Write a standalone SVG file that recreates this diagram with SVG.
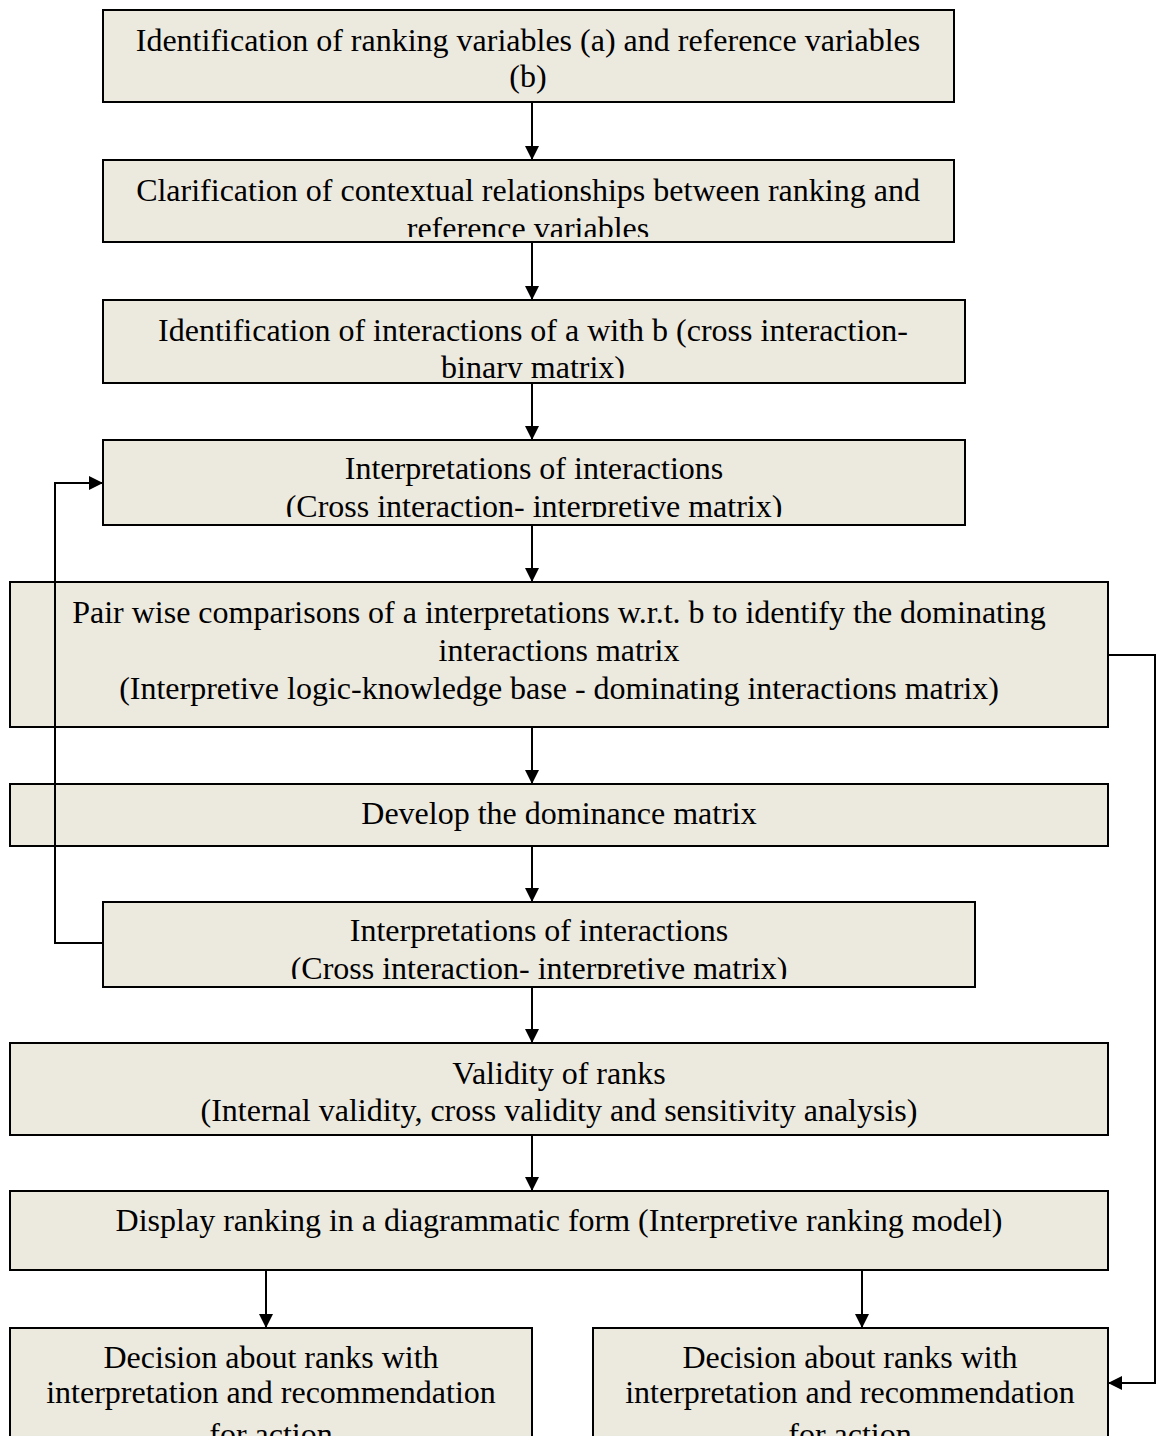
<svg xmlns="http://www.w3.org/2000/svg" width="1162" height="1436" viewBox="0 0 1162 1436">
<style>
.box{fill:#ECE9DF;stroke:#000;stroke-width:2}
.t{font-family:"Liberation Serif","Times New Roman",serif;font-size:32px;fill:#000;text-anchor:middle}
.c{fill:none;stroke:#000;stroke-width:2}
</style>
<defs>
<marker id="ah" viewBox="0 0 10 10" refX="10" refY="5" markerWidth="15" markerHeight="14" markerUnits="userSpaceOnUse" orient="auto"><path d="M0,0 L10,5 L0,10 Z" fill="#000"/></marker>
<clipPath id="c2"><rect x="103" y="160" width="851" height="77"/></clipPath>
<clipPath id="c3"><rect x="103" y="300" width="862" height="78"/></clipPath>
<clipPath id="c4"><rect x="103" y="440" width="862" height="77"/></clipPath>
<clipPath id="c7"><rect x="103" y="902" width="872" height="77"/></clipPath>
<clipPath id="c10"><rect x="10" y="1328" width="522" height="108"/></clipPath>
<clipPath id="c11"><rect x="593" y="1328" width="515" height="108"/></clipPath>
</defs>
<rect width="1162" height="1436" fill="#fff"/>
<g id="n1"><rect class="box" x="103" y="10" width="851" height="92"/>
<text class="t" x="528" y="51">Identification of ranking variables (a) and reference variables</text>
<text class="t" x="528" y="87">(b)</text></g>
<g id="n2"><rect class="box" x="103" y="160" width="851" height="82"/>
<g clip-path="url(#c2)"><text class="t" x="528" y="201">Clarification of contextual relationships between ranking and</text>
<text class="t" x="528" y="239">reference variables</text></g></g>
<g id="n3"><rect class="box" x="103" y="300" width="862" height="83"/>
<g clip-path="url(#c3)"><text class="t" x="533" y="341">Identification of interactions of a with b (cross interaction-</text>
<text class="t" x="533" y="378">binary matrix)</text></g></g>
<g id="n4"><rect class="box" x="103" y="440" width="862" height="85"/>
<g clip-path="url(#c4)"><text class="t" x="534" y="479">Interpretations of interactions</text>
<text class="t" x="534" y="517">(Cross interaction- interpretive matrix)</text></g></g>
<g id="n5"><rect class="box" x="10" y="582" width="1098" height="145"/>
<text class="t" x="559" y="623">Pair wise comparisons of a interpretations w.r.t. b to identify the dominating</text>
<text class="t" x="559" y="661">interactions matrix</text>
<text class="t" x="559" y="699">(Interpretive logic-knowledge base - dominating interactions matrix)</text></g>
<g id="n6"><rect class="box" x="10" y="784" width="1098" height="62"/>
<text class="t" x="559" y="824">Develop the dominance matrix</text></g>
<g id="n7"><rect class="box" x="103" y="902" width="872" height="85"/>
<g clip-path="url(#c7)"><text class="t" x="539" y="941">Interpretations of interactions</text>
<text class="t" x="539" y="979">(Cross interaction- interpretive matrix)</text></g></g>
<g id="n8"><rect class="box" x="10" y="1043" width="1098" height="92"/>
<text class="t" x="559" y="1084">Validity of ranks</text>
<text class="t" x="559" y="1121">(Internal validity, cross validity and sensitivity analysis)</text></g>
<g id="n9"><rect class="box" x="10" y="1191" width="1098" height="79"/>
<text class="t" x="559" y="1231">Display ranking in a diagrammatic form (Interpretive ranking model)</text></g>
<g id="n10"><rect class="box" x="10" y="1328" width="522" height="120"/>
<g clip-path="url(#c10)"><text class="t" x="271" y="1368">Decision about ranks with</text>
<text class="t" x="271" y="1403">interpretation and recommendation</text>
<text class="t" x="271" y="1445">for action</text></g></g>
<g id="n11"><rect class="box" x="593" y="1328" width="515" height="120"/>
<g clip-path="url(#c11)"><text class="t" x="850" y="1368">Decision about ranks with</text>
<text class="t" x="850" y="1403">interpretation and recommendation</text>
<text class="t" x="850" y="1445">for action</text></g></g>
<g id="connectors">
<line class="c" x1="532" y1="102" x2="532" y2="160" marker-end="url(#ah)"/>
<line class="c" x1="532" y1="242" x2="532" y2="300" marker-end="url(#ah)"/>
<line class="c" x1="532" y1="383" x2="532" y2="440" marker-end="url(#ah)"/>
<line class="c" x1="532" y1="525" x2="532" y2="582" marker-end="url(#ah)"/>
<line class="c" x1="532" y1="727" x2="532" y2="784" marker-end="url(#ah)"/>
<line class="c" x1="532" y1="846" x2="532" y2="902" marker-end="url(#ah)"/>
<line class="c" x1="532" y1="987" x2="532" y2="1043" marker-end="url(#ah)"/>
<line class="c" x1="532" y1="1135" x2="532" y2="1191" marker-end="url(#ah)"/>
<line class="c" x1="266" y1="1270" x2="266" y2="1328" marker-end="url(#ah)"/>
<line class="c" x1="862" y1="1270" x2="862" y2="1328" marker-end="url(#ah)"/>
<polyline class="c" points="103,943 55,943 55,483 103,483" marker-end="url(#ah)"/>
<polyline class="c" points="1108,655 1155,655 1155,1383 1108,1383" marker-end="url(#ah)"/>
</g>
</svg>
